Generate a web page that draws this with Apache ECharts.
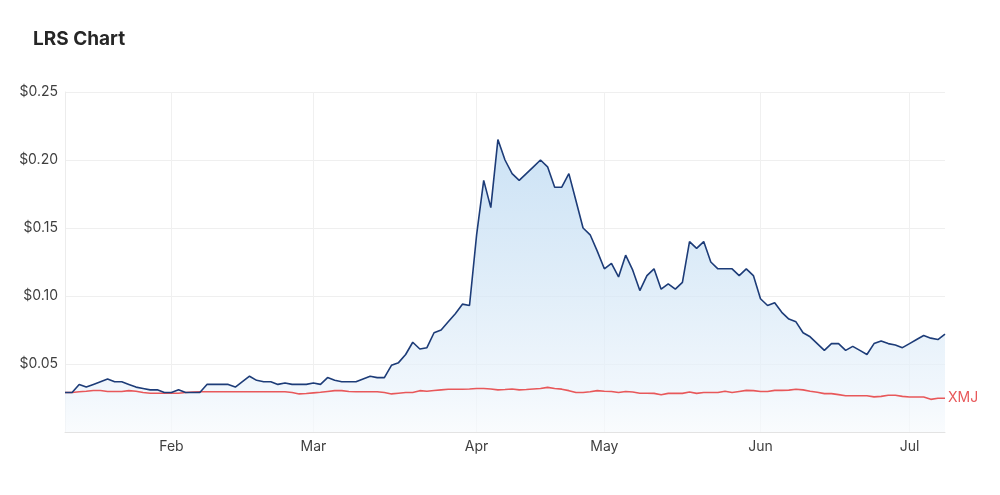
<!DOCTYPE html>
<html>
<head>
<meta charset="utf-8">
<title>LRS Chart</title>
<script src="https://cdn.jsdelivr.net/npm/echarts@6/dist/echarts.min.js"></script>
<style>
  html, body { margin: 0; padding: 0; background: #fff; }
  #chart { width: 1000px; height: 495px; }
</style>
</head>
<body>
<div id="chart"></div>
<script>
// trading days, 10 Jan 2022 - 8 Jul 2022 (ASX)
var startDay = '2022-01-10';
var endDay = '2022-07-08';
var holidays = ['2022-01-26', '2022-04-15', '2022-04-18', '2022-04-25', '2022-06-13'];
var monthNames = ['Jan', 'Feb', 'Mar', 'Apr', 'May', 'Jun', 'Jul'];
var yTicks = [0.05, 0.10, 0.15, 0.20, 0.25];

// LRS close
var lrs = [
  0.029, 0.029, 0.035, 0.033, 0.035, 0.037, 0.039, 0.037, 0.037, 0.035,
  0.033, 0.032, 0.031, 0.031, 0.029, 0.029, 0.031, 0.029, 0.029, 0.029,
  0.035, 0.035, 0.035, 0.035, 0.033, 0.037, 0.041, 0.038, 0.037, 0.037,
  0.035, 0.036, 0.035, 0.035, 0.035, 0.036, 0.035, 0.040, 0.038, 0.037,
  0.037, 0.037, 0.039, 0.041, 0.040, 0.040, 0.049, 0.051, 0.057, 0.066,
  0.061, 0.062, 0.073, 0.075, 0.081, 0.087, 0.094, 0.093, 0.145, 0.185,
  0.165, 0.215, 0.200, 0.190, 0.185, 0.190, 0.195, 0.200, 0.195, 0.180,
  0.180, 0.190, 0.170, 0.150, 0.145, 0.133, 0.120, 0.124, 0.114, 0.130,
  0.119, 0.104, 0.115, 0.120, 0.105, 0.109, 0.105, 0.110, 0.140, 0.135,
  0.140, 0.125, 0.120, 0.120, 0.120, 0.115, 0.120, 0.115, 0.098, 0.093,
  0.095, 0.088, 0.083, 0.081, 0.073, 0.070, 0.065, 0.060, 0.065, 0.065,
  0.060, 0.063, 0.060, 0.057, 0.065, 0.067, 0.065, 0.064, 0.062, 0.065,
  0.068, 0.071, 0.069, 0.068, 0.072
];

// XMJ index, rebased to LRS
var xmj = [
  0.0290, 0.0290, 0.0296, 0.0300, 0.0305, 0.0305, 0.0298, 0.0298, 0.0298, 0.0304,
  0.0300, 0.0290, 0.0285, 0.0285, 0.0285, 0.0285, 0.0285, 0.0290, 0.0294, 0.0296,
  0.0296, 0.0296, 0.0296, 0.0296, 0.0296, 0.0296, 0.0296, 0.0296, 0.0296, 0.0296,
  0.0296, 0.0296, 0.0290, 0.0280, 0.0283, 0.0288, 0.0292, 0.0298, 0.0304, 0.0304,
  0.0298, 0.0296, 0.0296, 0.0296, 0.0296, 0.0290, 0.0280, 0.0285, 0.0290, 0.0290,
  0.0304, 0.0300, 0.0305, 0.0310, 0.0314, 0.0314, 0.0314, 0.0316, 0.0320, 0.0320,
  0.0316, 0.0310, 0.0312, 0.0316, 0.0310, 0.0312, 0.0316, 0.0320, 0.0328, 0.0320,
  0.0315, 0.0304, 0.0290, 0.0290, 0.0296, 0.0304, 0.0300, 0.0298, 0.0290, 0.0298,
  0.0294, 0.0285, 0.0285, 0.0284, 0.0274, 0.0284, 0.0284, 0.0284, 0.0294, 0.0284,
  0.0290, 0.0290, 0.0290, 0.0300, 0.0290, 0.0298, 0.0306, 0.0304, 0.0298, 0.0298,
  0.0306, 0.0306, 0.0308, 0.0314, 0.0310, 0.0300, 0.0292, 0.0282, 0.0282, 0.0275,
  0.0267, 0.0267, 0.0267, 0.0267, 0.0258, 0.0262, 0.0270, 0.0270, 0.0262, 0.0257,
  0.0257, 0.0257, 0.0240, 0.0248, 0.0248
];

var pad = function (n) {
  return n < 10 ? '0' + n : '' + n;
};

var tradingDays = function (from, to, skip) {
  var out = [];
  var d = new Date(from + 'T00:00:00Z');
  var last = new Date(to + 'T00:00:00Z');
  while (d <= last) {
    var s = d.getUTCFullYear() + '-' + pad(d.getUTCMonth() + 1) + '-' + pad(d.getUTCDate());
    var wd = d.getUTCDay();
    if (wd !== 0 && wd !== 6 && skip.indexOf(s) < 0) {
      out.push(s);
    }
    d = new Date(d.getTime() + 86400000);
  }
  return out;
};

var dates = tradingDays(startDay, endDay, holidays);

// first trading day of each month gets a tick
var isMonthStart = function (index) {
  if (index === 0) return false;
  return dates[index].substr(5, 2) !== dates[index - 1].substr(5, 2);
};

var chart = echarts.init(document.getElementById('chart'), null, {renderer: 'canvas'});

var option = {
  animation: false,
  backgroundColor: '#ffffff',
  textStyle: {fontFamily: 'Inter, "Noto Sans", sans-serif'},
  title: {
    text: 'LRS Chart',
    left: 28,
    top: 25,
    textStyle: {
      fontFamily: 'Inter, "Noto Sans", sans-serif',
      fontSize: 19,
      fontWeight: 'bold',
      color: '#262626'
    }
  },
  grid: {left: 65, right: 55, top: 92, bottom: 63},
  xAxis: {
    type: 'category',
    data: dates,
    boundaryGap: false,
    axisLine: {show: true, lineStyle: {color: '#e3e3e3', width: 1}},
    axisTick: {show: false},
    axisLabel: {
      interval: function (index) {
        return isMonthStart(index);
      },
      color: '#3f3f3f',
      fontSize: 14,
      margin: 8,
      formatter: function (value) {
        return monthNames[parseInt(value.substr(5, 2), 10) - 1];
      }
    },
    splitLine: {
      show: true,
      interval: function (index) {
        return isMonthStart(index);
      },
      lineStyle: {color: '#f0f0f0', width: 1}
    }
  },
  yAxis: {
    type: 'value',
    min: 0,
    max: 0.25,
    interval: 0.05,
    axisLine: {show: true, lineStyle: {color: '#ececec'}},
    axisTick: {show: false},
    axisLabel: {
      color: '#3f3f3f',
      fontSize: 14,
      margin: 7,
      formatter: function (v) {
        if (v === 0) return '';
        return '$' + v.toFixed(2);
      }
    },
    splitLine: {lineStyle: {color: '#efefef', width: 1}}
  },
  series: [
    {
      name: 'LRS area',
      type: 'line',
      data: lrs,
      symbol: 'none',
      silent: true,
      lineStyle: {width: 0},
      areaStyle: {
        origin: 'start',
        color: new echarts.graphic.LinearGradient(0, 0, 0, 1, [
          {offset: 0, color: '#b6d6f1'},
          {offset: 0.5, color: '#d3e6f6'},
          {offset: 0.85, color: '#eaf3fb'},
          {offset: 1, color: '#f7fafd'}
        ])
      },
      z: 1
    },
    {
      name: 'XMJ',
      type: 'line',
      data: xmj,
      symbol: 'none',
      lineStyle: {color: '#e8585a', width: 1.6},
      endLabel: {
        show: true,
        formatter: 'XMJ',
        color: '#e8585a',
        fontSize: 14,
        distance: 3
      },
      z: 2
    },
    {
      name: 'LRS',
      type: 'line',
      data: lrs,
      symbol: 'none',
      lineStyle: {color: '#1d3c78', width: 1.6},
      z: 3
    }
  ]
};

chart.setOption(option);
</script>
</body>
</html>
